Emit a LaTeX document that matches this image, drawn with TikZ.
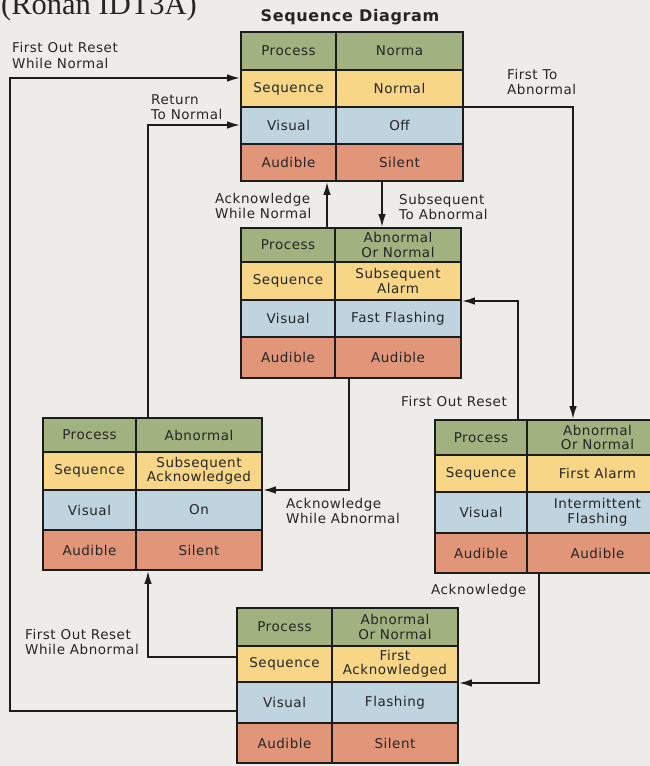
\documentclass[tikz,border=0pt]{standalone}
\usepackage{fontspec}
\setmainfont{DejaVu Sans}[LetterSpace=4]
\newfontfamily\ronanfont{Liberation Serif}
\usetikzlibrary{fit,arrows.meta}
\definecolor{bgc}{RGB}{237,236,232}
\definecolor{grn}{RGB}{161,177,127}
\definecolor{ylw}{RGB}{248,214,135}
\definecolor{blu}{RGB}{191,212,222}
\definecolor{sal}{RGB}{225,150,122}
\definecolor{txt}{RGB}{38,38,38}
\definecolor{lin}{RGB}{28,28,28}
\tikzset{
  cellbox/.style={draw=lin, line width=1.6pt, inner sep=0pt, align=center, text=txt,
    font=\fontsize{13.5}{14.5}\selectfont},
  boxfit/.style={inner sep=0pt, outer sep=0pt},
  lbl/.style={anchor=north west, inner sep=0pt, align=left, text=txt,
    font=\fontsize{13.5}{15.5}\selectfont},
  conn/.style={draw=lin, line width=1.8pt, -{Latex[length=13pt,width=7.5pt]}}
}
% name, x0, y0, x1, y1, fill, text
\newcommand\mkcell[7]{%
  \node[cellbox, fill=#6, minimum width={(#4-#2)*1pt}, minimum height={(#5-#3)*1pt}]
    (#1) at ({(#2+#4)/2},{(#3+#5)/2}) {#7};}
\begin{document}
\begin{tikzpicture}[x=1pt,y=-1pt]
\useasboundingbox (0,0) rectangle (650,766);
\fill[bgc] (0,0) rectangle (650,766);
\node[anchor=base west, inner sep=0pt, text=txt, font=\ronanfont\fontsize{30.5}{32}\selectfont] (ronan) at (1,14) {(Ronan IDT3A)};
\node[anchor=north, inner sep=0pt, text=txt, font=\bfseries\fontsize{16}{18}\selectfont] (title) at (350,9.5) {Sequence Diagram};

% Box A (top)
\mkcell{A1l}{241}{32}{336}{70}{grn}{Process}
\mkcell{A1r}{336}{32}{463}{70}{grn}{Norma}
\mkcell{A2l}{241}{70}{336}{107}{ylw}{Sequence}
\mkcell{A2r}{336}{70}{463}{107}{ylw}{Normal}
\mkcell{A3l}{241}{107}{336}{144}{blu}{Visual}
\mkcell{A3r}{336}{107}{463}{144}{blu}{Off}
\mkcell{A4l}{241}{144}{336}{181}{sal}{Audible}
\mkcell{A4r}{336}{144}{463}{181}{sal}{Silent}
\node[boxfit, fit=(A1l)(A4r)] (A) {};

% Box B (middle)
\mkcell{B1l}{241}{228}{335}{262}{grn}{Process}
\mkcell{B1r}{335}{228}{461}{262}{grn}{Abnormal\\Or Normal}
\mkcell{B2l}{241}{262}{335}{300}{ylw}{Sequence}
\mkcell{B2r}{335}{262}{461}{300}{ylw}{Subsequent\\Alarm}
\mkcell{B3l}{241}{300}{335}{337}{blu}{Visual}
\mkcell{B3r}{335}{300}{461}{337}{blu}{Fast Flashing}
\mkcell{B4l}{241}{337}{335}{378}{sal}{Audible}
\mkcell{B4r}{335}{337}{461}{378}{sal}{Audible}
\node[boxfit, fit=(B1l)(B4r)] (B) {};

% Box C (left)
\mkcell{C1l}{43}{418}{136}{452}{grn}{Process}
\mkcell{C1r}{136}{418}{262}{452}{grn}{Abnormal}
\mkcell{C2l}{43}{452}{136}{490}{ylw}{Sequence}
\mkcell{C2r}{136}{452}{262}{490}{ylw}{Subsequent\\Acknowledged}
\mkcell{C3l}{43}{490}{136}{530}{blu}{Visual}
\mkcell{C3r}{136}{490}{262}{530}{blu}{On}
\mkcell{C4l}{43}{530}{136}{570}{sal}{Audible}
\mkcell{C4r}{136}{530}{262}{570}{sal}{Silent}
\node[boxfit, fit=(C1l)(C4r)] (C) {};

% Box D (right)
\mkcell{D1l}{435}{420}{527}{455}{grn}{Process}
\mkcell{D1r}{527}{420}{668}{455}{grn}{Abnormal\\Or Normal}
\mkcell{D2l}{435}{455}{527}{492}{ylw}{Sequence}
\mkcell{D2r}{527}{455}{668}{492}{ylw}{First Alarm}
\mkcell{D3l}{435}{492}{527}{533}{blu}{Visual}
\mkcell{D3r}{527}{492}{668}{533}{blu}{Intermittent\\Flashing}
\mkcell{D4l}{435}{533}{527}{573}{sal}{Audible}
\mkcell{D4r}{527}{533}{668}{573}{sal}{Audible}
\node[boxfit, fit=(D1l)(D4r)] (D) {};

% Box E (bottom)
\mkcell{E1l}{237}{608}{332}{646}{grn}{Process}
\mkcell{E1r}{332}{608}{458}{646}{grn}{Abnormal\\Or Normal}
\mkcell{E2l}{237}{646}{332}{682}{ylw}{Sequence}
\mkcell{E2r}{332}{646}{458}{682}{ylw}{First\\Acknowledged}
\mkcell{E3l}{237}{682}{332}{723}{blu}{Visual}
\mkcell{E3r}{332}{682}{458}{723}{blu}{Flashing}
\mkcell{E4l}{237}{723}{332}{763}{sal}{Audible}
\mkcell{E4r}{332}{723}{458}{763}{sal}{Silent}
\node[boxfit, fit=(E1l)(E4r)] (E) {};

% bend coordinates
\coordinate (p1) at (10,711);
\coordinate (p2) at (10,78);
\coordinate (p3) at (148,125);
\coordinate (p4) at (327,200);
\coordinate (p5) at (382,200);
\coordinate (p6) at (573,107);
\coordinate (p7) at (518,301);
\coordinate (p8) at (349,490);
\coordinate (p9) at (539,683);
\coordinate (p10) at (148,657);

\draw[conn] (E.west |- p1) -- (p1) -- (p2) -- (A.west |- p2);
\draw[conn] (C.north -| p3) -- (p3) -- (A.west |- p3);
\draw[conn] (B.north -| p4) -- (A.south -| p4);
\draw[conn] (A.south -| p5) -- (B.north -| p5);
\draw[conn] (A.east |- p6) -- (p6) -- (D.north -| p6);
\draw[conn] (D.north -| p7) -- (p7) -- (B.east |- p7);
\draw[conn] (B.south -| p8) -- (p8) -- (C.east |- p8);
\draw[conn] (D.south -| p9) -- (p9) -- (E.east |- p9);
\draw[conn] (E.west |- p10) -- (p10) -- (C.south -| p10);

% labels
\node[lbl] (l1) at (12,42.5) {First Out Reset\\While Normal};
\node[lbl] (l2) at (151,94) {Return\\To Normal};
\node[lbl] (l3) at (215,193) {Acknowledge\\While Normal};
\node[lbl] (l4) at (399,194) {Subsequent\\To Abnormal};
\node[lbl] (l5) at (507,69) {First To\\Abnormal};
\node[lbl] (l6) at (401,396) {First Out Reset};
\node[lbl] (l7) at (286,498) {Acknowledge\\While Abnormal};
\node[lbl] (l8) at (431,584) {Acknowledge};
\node[lbl] (l9) at (25,629) {First Out Reset\\While Abnormal};
\end{tikzpicture}
\end{document}
